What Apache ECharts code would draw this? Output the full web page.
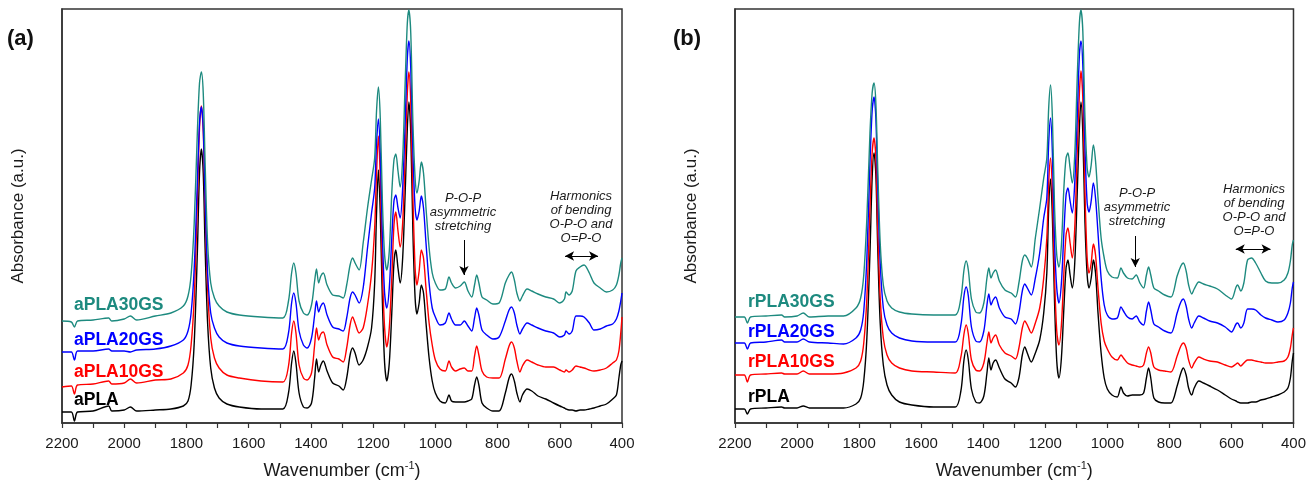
<!DOCTYPE html>
<html>
<head>
<meta charset="utf-8">
<script src="https://cdn.jsdelivr.net/npm/echarts@6/dist/echarts.min.js"></script>
<style>
  html, body { margin: 0; padding: 0; background: #fff; }
  #main { width: 1309px; height: 490px; }
</style>
</head>
<body>
<div id="main"></div>
<script>
// wavenumber grid (cm-1), shared by all spectra
var wn = [
  2200, 2170, 2160, 2150, 2100, 2050, 2040, 2000, 1980, 1960,
  1900, 1850, 1810, 1795, 1785, 1775, 1765, 1758, 1752, 1746,
  1740, 1732, 1722, 1710, 1695, 1670, 1630, 1560, 1490, 1472,
  1462, 1455, 1448, 1438, 1424, 1412, 1398, 1388, 1382, 1375,
  1368, 1360, 1348, 1330, 1310, 1296, 1285, 1274, 1266, 1258,
  1245, 1232, 1218, 1205, 1195, 1189, 1183, 1177, 1170, 1163,
  1156, 1148, 1140, 1133, 1127, 1120, 1113, 1105, 1097, 1090,
  1085, 1079, 1072, 1065, 1059, 1052, 1045, 1038, 1030, 1020,
  1010, 1000, 985, 968, 956, 948, 935, 920, 907, 895,
  883, 874, 867, 860, 850, 835, 815, 795, 775, 763,
  755, 746, 738, 728, 720, 705, 690, 670, 645, 620,
  600, 585, 580, 570, 560, 548, 535, 522, 505, 490,
  470, 450, 430, 418, 410, 404, 400
];
var xLabels = [2200, 2000, 1800, 1600, 1400, 1200, 1000, 800, 600, 400];

// (a) absorbance, stacked with offsets (a.u.)
var aPLA = [
  11, 11, 2, 11, 12, 17, 12, 13, 16, 12,
  13, 14, 17, 22, 38, 80, 170, 250, 274, 250,
  175, 100, 55, 35, 25, 19, 16, 14, 14, 30,
  60, 72, 60, 30, 16, 15, 20, 45, 64, 51,
  58, 62, 52, 40, 37, 33, 45, 68, 75, 70,
  58, 63, 76, 95, 140, 210, 253, 210, 120, 60,
  42, 60, 110, 160, 173, 155, 140, 165, 230, 295,
  321, 290, 190, 125, 109, 120, 138, 130, 100, 65,
  42, 30, 22, 20, 28, 22, 21, 21, 21, 22,
  24, 38, 46, 38, 20, 15, 12, 12, 30, 45,
  49, 42, 30, 21, 28, 34, 32, 27, 24, 20,
  17, 15, 14, 13, 13, 12, 13, 13, 14, 15,
  17, 19, 24, 28, 45, 58, 62
];
var aPLA10GS = [
  36, 37, 29, 38, 39, 42, 39, 40, 44, 40,
  43, 44, 50, 58, 78, 125, 220, 295, 317, 292,
  215, 135, 85, 65, 55, 48, 45, 42, 41, 57,
  90, 102, 90, 58, 45, 43, 50, 78, 95, 83,
  89, 91, 78, 66, 64, 61, 75, 98, 106, 100,
  90, 95, 118, 150, 195, 250, 287, 245, 150, 95,
  76, 95, 145, 198, 211, 192, 176, 200, 265, 330,
  351, 320, 225, 155, 138, 152, 173, 165, 135, 100,
  78, 63, 54, 52, 62, 56, 52, 54, 55, 52,
  52, 67, 77, 68, 52, 46, 45, 45, 64, 77,
  81, 75, 62, 51, 57, 63, 61, 58, 56, 56,
  53, 51, 53, 51, 53, 57, 56, 55, 53, 52,
  53, 55, 60, 63, 72, 90, 106
];
var aPLA20GS = [
  71, 71, 63, 72, 72, 74, 72, 72, 71, 73,
  74, 77, 83, 92, 110, 155, 240, 300, 316, 295,
  225, 150, 110, 95, 86, 80, 77, 75, 74, 90,
  120, 130, 120, 92, 78, 75, 85, 108, 122, 111,
  117, 120, 108, 96, 94, 92, 105, 125, 131, 128,
  120, 135, 175, 210, 235, 280, 304, 270, 185, 130,
  115, 135, 185, 222, 228, 215, 205, 235, 300, 365,
  382, 355, 270, 215, 203, 212, 227, 215, 180, 140,
  115, 106, 98, 100, 110, 104, 98, 98, 102, 97,
  92, 105, 115, 108, 93, 88, 84, 86, 102, 113,
  116, 110, 98, 89, 94, 100, 98, 95, 92, 90,
  86, 88, 92, 89, 92, 107, 107, 106, 100, 93,
  94, 97, 99, 104, 112, 122, 130
];
var aPLA30GS = [
  102, 101, 96, 102, 103, 105, 102, 104, 107, 103,
  107, 110, 117, 127, 148, 200, 290, 340, 351, 330,
  260, 180, 140, 125, 117, 111, 108, 106, 105, 122,
  150, 160, 150, 122, 110, 108, 118, 142, 154, 140,
  147, 150, 138, 128, 127, 125, 138, 158, 165, 160,
  153, 180, 215, 243, 265, 312, 336, 305, 220, 168,
  153, 172, 230, 263, 269, 252, 236, 265, 340, 400,
  413, 390, 300, 245, 230, 242, 261, 250, 215, 175,
  150, 140, 133, 134, 146, 140, 135, 137, 141, 132,
  126, 138, 148, 140, 126, 123, 119, 120, 140, 148,
  151, 143, 130, 122, 127, 134, 132, 129, 126, 124,
  120, 124, 131, 128, 132, 152, 156, 158, 150, 140,
  135, 131, 133, 138, 148, 160, 165
];

// (b)
var rPLA = [
  14, 14, 9, 14, 15, 16, 15, 15, 17, 15,
  15, 15, 19, 25, 42, 85, 170, 245, 270, 248,
  175, 100, 58, 38, 28, 21, 18, 16, 16, 32,
  63, 73, 63, 34, 21, 20, 27, 50, 65, 53,
  60, 63, 55, 44, 40, 36, 45, 68, 76, 70,
  61, 70, 83, 110, 150, 215, 244, 205, 120, 62,
  45, 65, 115, 155, 163, 148, 135, 160, 230, 295,
  321, 290, 200, 148, 135, 145, 163, 150, 110, 70,
  45, 34, 28, 26, 36, 30, 27, 28, 28, 28,
  30, 45, 55, 45, 25, 21, 20, 20, 37, 50,
  55, 48, 35, 28, 35, 42, 40, 37, 33, 28,
  24, 22, 21, 20, 20, 20, 21, 21, 23, 24,
  26, 28, 31, 35, 45, 62, 70
];
var rPLA10GS = [
  48, 48, 41, 48, 49, 50, 49, 49, 52, 49,
  49, 50, 55, 62, 80, 125, 215, 270, 285, 265,
  195, 125, 85, 68, 60, 55, 52, 51, 50, 66,
  89, 98, 89, 63, 53, 52, 60, 80, 91, 80,
  85, 88, 78, 70, 67, 64, 75, 95, 102, 98,
  90, 100, 115, 145, 185, 240, 265, 230, 145, 92,
  78, 98, 150, 188, 195, 180, 165, 195, 270, 330,
  352, 325, 230, 165, 150, 160, 179, 168, 135, 100,
  82, 74, 66, 63, 68, 65, 60, 58, 57, 56,
  58, 70, 76, 70, 56, 53, 52, 51, 67, 77,
  80, 75, 63, 55, 60, 66, 64, 62, 61, 58,
  56, 59, 60, 57, 60, 63, 63, 62, 61, 60,
  60, 61, 62, 66, 75, 88, 95
];
var rPLA20GS = [
  80, 80, 74, 80, 81, 83, 81, 81, 84, 81,
  80, 79, 85, 93, 112, 165, 260, 312, 326, 305,
  235, 160, 115, 98, 90, 85, 82, 81, 81, 98,
  127, 136, 127, 96, 82, 81, 92, 118, 129, 118,
  123, 126, 115, 106, 104, 99, 110, 132, 139, 135,
  128, 145, 170, 205, 225, 280, 305, 270, 180, 135,
  120, 140, 190, 228, 235, 222, 210, 240, 305, 368,
  382, 358, 275, 220, 211, 222, 240, 225, 190, 145,
  118, 108, 104, 105, 116, 112, 106, 104, 107, 101,
  98, 112, 121, 113, 99, 96, 92, 90, 110, 121,
  124, 117, 104, 95, 100, 107, 105, 102, 100, 96,
  91, 99, 100, 95, 100, 114, 114, 113, 108, 105,
  103, 101, 103, 110, 120, 135, 141
];
var rPLA30GS = [
  106, 106, 100, 106, 107, 108, 106, 107, 110, 106,
  107, 107, 115, 125, 148, 205, 290, 330, 340, 320,
  255, 180, 138, 122, 115, 111, 109, 108, 108, 125,
  153, 162, 153, 124, 111, 110, 120, 145, 155, 145,
  150, 153, 142, 133, 130, 126, 140, 162, 168, 165,
  156, 185, 215, 245, 265, 315, 338, 305, 215, 168,
  156, 178, 235, 265, 270, 255, 240, 268, 345, 400,
  413, 392, 305, 255, 246, 258, 278, 262, 225, 185,
  165, 152, 146, 145, 155, 150, 145, 144, 148, 140,
  135, 148, 156, 148, 135, 132, 128, 126, 147, 157,
  160, 152, 138, 129, 134, 141, 139, 137, 134, 128,
  124, 136, 138, 132, 140, 163, 165, 160, 150, 142,
  140, 140, 143, 150, 162, 178, 183
];

var BLACK = '#000000', RED = '#ff0000', BLUE = '#0000ff', TEAL = '#1d8a7f';
var FONT = '"Liberation Sans", Arial, sans-serif';

function spectrum(name, vals, idx, color, marks) {
  var s = {
    name: name, type: 'line', xAxisIndex: idx, yAxisIndex: idx,
    data: wn.map(function (w, i) { return [w, vals[i]]; }),
    showSymbol: false, smooth: 0.3, silent: true,
    lineStyle: { color: color, width: 1.4 }, itemStyle: { color: color }
  };
  if (marks) s.markLine = marks;
  return s;
}

// arrows, in data coordinates
function arrows(xv, y0, y1, xa, xb, yh) {
  return {
    silent: true, symbol: ['arrow', 'arrow'], symbolSize: [7, 9],
    lineStyle: { color: '#000', width: 1, type: 'solid' },
    label: { show: false },
    data: [
      [{ coord: [xv, y0], symbol: 'none' }, { coord: [xv, y1] }],
      [{ coord: [xa, yh] }, { coord: [xb, yh] }]
    ]
  };
}

function xAx(idx) {
  return {
    type: 'value', gridIndex: idx, min: 400, max: 2200, interval: 100, inverse: true,
    axisLine: { show: true, lineStyle: { color: '#333', width: 1.5 } },
    axisTick: { show: true, inside: false, length: 5, lineStyle: { color: '#333', width: 1.2 } },
    splitLine: { show: false },
    axisLabel: {
      margin: 13, color: '#1a1a1a', fontSize: 15, fontFamily: FONT,
      formatter: function (v) { return xLabels.indexOf(v) >= 0 ? String(v) : ''; }
    },
    name: 'Wavenumber (cm{sup|-1})', nameLocation: 'middle', nameGap: 37,
    nameTextStyle: {
      color: '#1a1a1a', fontSize: 18, fontFamily: FONT, lineHeight: 22,
      rich: { sup: { fontSize: 11, fontFamily: FONT, color: '#1a1a1a', verticalAlign: 'top', lineHeight: 12 } }
    }
  };
}
function yAx(idx) {
  return {
    type: 'value', gridIndex: idx, min: 0, max: 414,
    axisLine: { show: true, lineStyle: { color: '#333', width: 1.5 } },
    axisTick: { show: false }, axisLabel: { show: false }, splitLine: { show: false },
    name: 'Absorbance (a.u.)', nameLocation: 'middle', nameGap: 35,
    nameTextStyle: { color: '#1a1a1a', fontSize: 17, fontFamily: FONT }
  };
}

function label(txt, x, y, color) {
  return { type: 'text', x: x, y: y, silent: true,
    style: { text: txt, fill: color, font: 'bold 17.5px ' + FONT, verticalAlign: 'middle' } };
}
function note(txt, x, y) {
  return { type: 'text', x: x, y: y, silent: true,
    style: { text: txt, fill: '#1a1a1a', font: 'italic 13px ' + FONT, align: 'center', verticalAlign: 'top', lineHeight: 14 } };
}

var chart = echarts.init(document.getElementById('main'), null, { renderer: 'canvas' });
chart.setOption({
  animation: false,
  backgroundColor: '#fff',
  grid: [
    { left: 62, top: 9, width: 560, height: 414, show: true, borderColor: '#333', borderWidth: 1.5, backgroundColor: 'transparent' },
    { left: 735, top: 9, width: 561, height: 414, show: true, borderColor: '#333', borderWidth: 1.5, backgroundColor: 'transparent' }
  ],
  xAxis: [xAx(0), xAx(1)],
  yAxis: [yAx(0), yAx(1)],
  series: [
    spectrum('aPLA', aPLA, 0, BLACK, arrows(908, 183, 148, 583, 477, 167)),
    spectrum('aPLA10GS', aPLA10GS, 0, RED),
    spectrum('aPLA20GS', aPLA20GS, 0, BLUE),
    spectrum('aPLA30GS', aPLA30GS, 0, TEAL),
    spectrum('rPLA', rPLA, 1, BLACK, arrows(910, 187, 156, 586, 474, 174)),
    spectrum('rPLA10GS', rPLA10GS, 1, RED),
    spectrum('rPLA20GS', rPLA20GS, 1, BLUE),
    spectrum('rPLA30GS', rPLA30GS, 1, TEAL)
  ],
  graphic: [
    { type: 'text', x: 7, y: 39, style: { text: '(a)', fill: '#111', font: 'bold 22px ' + FONT, verticalAlign: 'middle' } },
    { type: 'text', x: 673, y: 39, style: { text: '(b)', fill: '#111', font: 'bold 22px ' + FONT, verticalAlign: 'middle' } },
    label('aPLA30GS', 74, 305, TEAL),
    label('aPLA20GS', 74, 340, BLUE),
    label('aPLA10GS', 74, 372, RED),
    label('aPLA', 74, 400, BLACK),
    label('rPLA30GS', 748, 302, TEAL),
    label('rPLA20GS', 748, 332, BLUE),
    label('rPLA10GS', 748, 362, RED),
    label('rPLA', 748, 397, BLACK),
    note('P-O-P\nasymmetric\nstretching', 463, 191),
    note('Harmonics\nof bending\nO-P-O and\nO=P-O', 581, 189),
    note('P-O-P\nasymmetric\nstretching', 1137, 186),
    note('Harmonics\nof bending\nO-P-O and\nO=P-O', 1254, 182)
  ]
});
</script>
</body>
</html>
